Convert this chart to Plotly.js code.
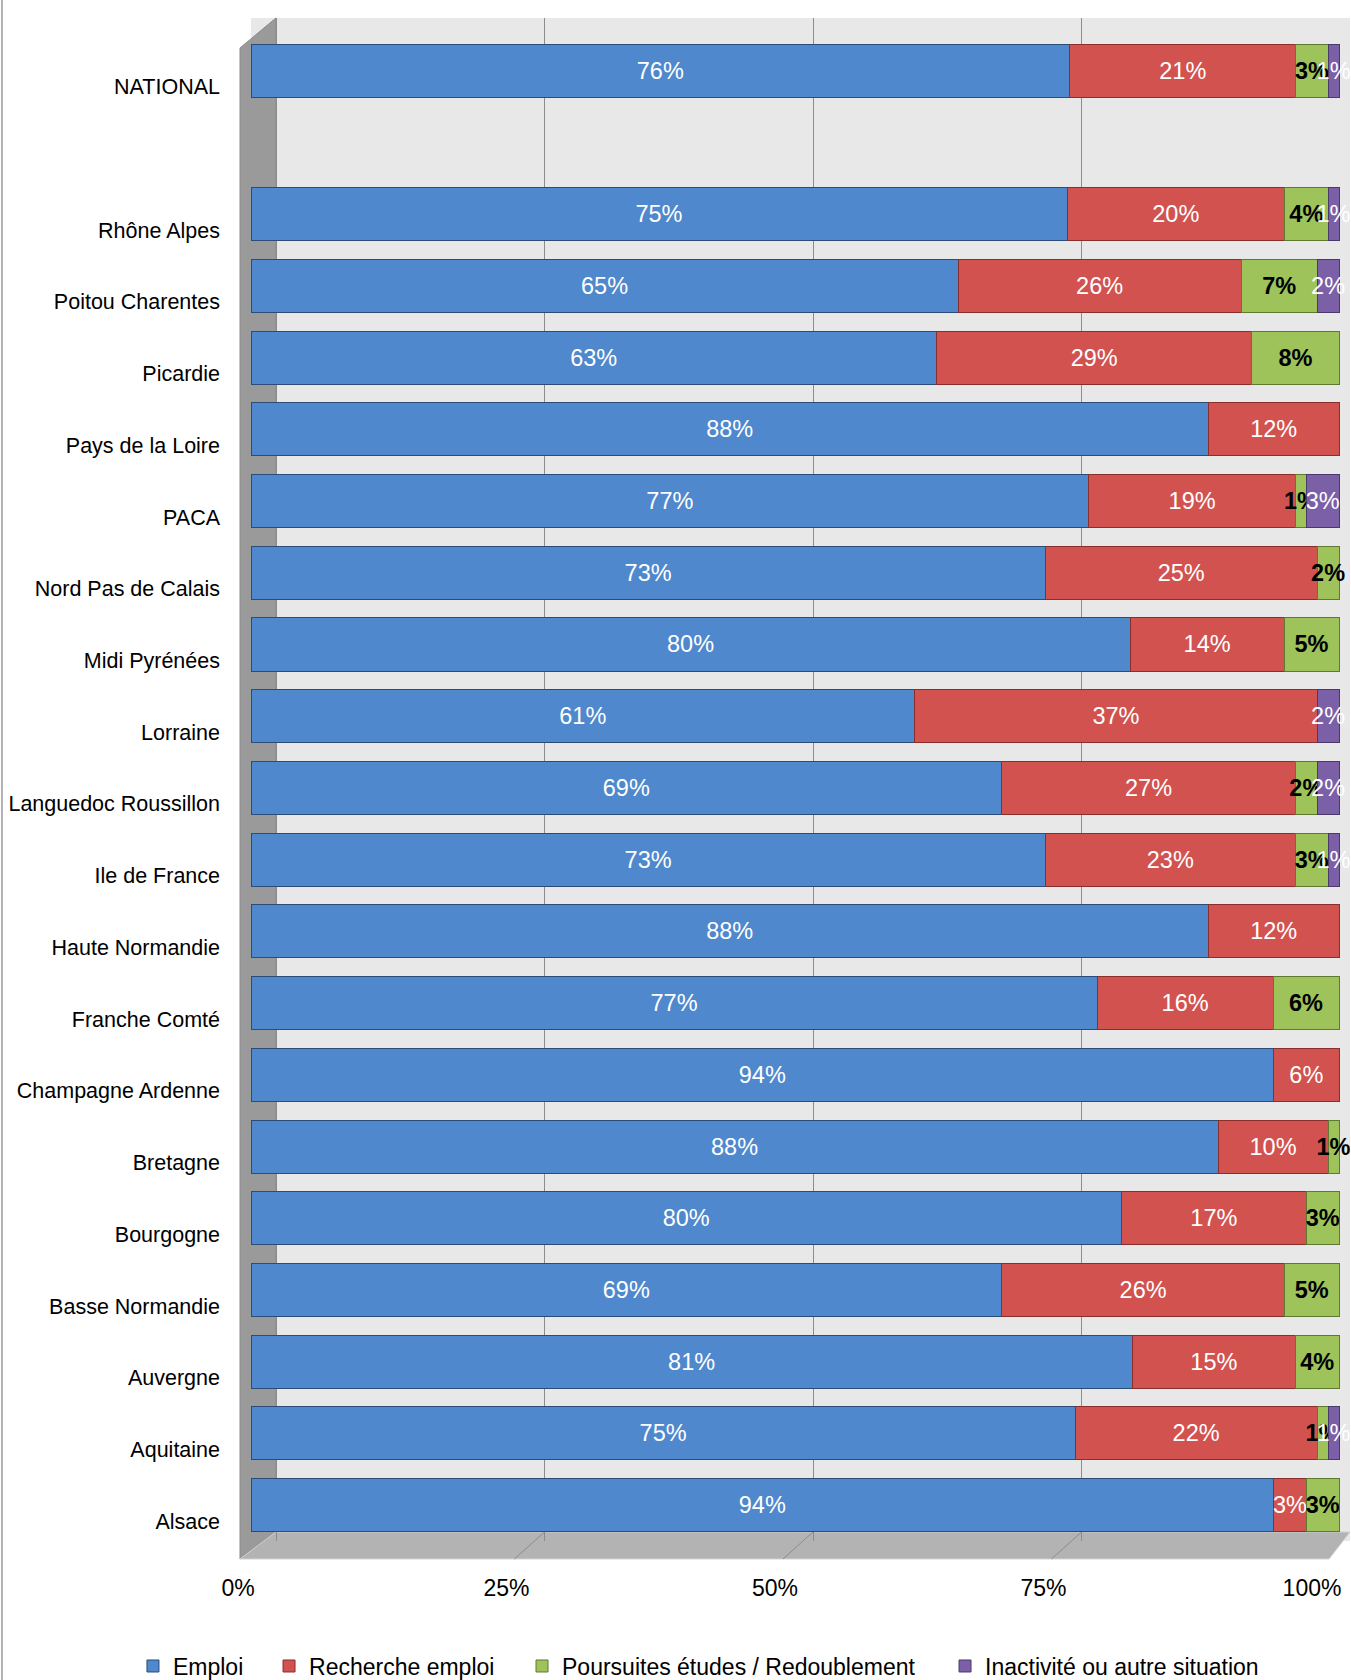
<!DOCTYPE html>
<html>
<head>
<meta charset="utf-8">
<script src="https://cdn.plot.ly/plotly-3.0.1.min.js"></script>
<style>
html,body{margin:0;padding:0;background:#fff;}
#chart{width:1351px;height:1680px;}
</style>
</head>
<body>
<div id="chart"></div>
<script>
const categories = ["NATIONAL"," ","Rhône Alpes","Poitou Charentes","Picardie","Pays de la Loire","PACA","Nord Pas de Calais","Midi Pyrénées","Lorraine","Languedoc Roussillon","Ile de France","Haute Normandie","Franche Comté","Champagne Ardenne","Bretagne","Bourgogne","Basse Normandie","Auvergne","Aquitaine","Alsace"];
const emploi     = [76,null,75,65,63,88,77,73,80,61,69,73,88,77,94,88,80,69,81,75,94];
const recherche  = [21,null,20,26,29,12,19,25,14,37,27,23,12,16,6,10,17,26,15,22,3];
const poursuites = [3,null,4,7,8,null,1,2,5,null,2,3,null,6,null,1,3,5,4,1,3];
const inactivite = [1,null,1,2,null,null,3,null,null,2,2,1,null,null,null,null,null,null,null,1,null];
const seriesNames = ["Emploi","Recherche emploi","Poursuites études / Redoublement","Inactivité ou autre situation"];
const tickVals = [0,25,50,75,100];
const tickText = ["0%","25%","50%","75%","100%"];

const FONT = "'Liberation Sans', Arial, sans-serif";
const FS = 21.5;

const colors = ["#4f88cc","#d2524f","#9dc35a","#7b60a8"];
const edges  = ["#2b4c78","#8a2e2c","#5f7a30","#4a3a6a"];
const textColors = ["#ffffff","#ffffff","#000000","#ffffff"];
const textWeights = ["normal","normal","bold","normal"];
const values = [emploi, recherche, poursuites, inactivite];
const legendIds = ["legend","legend2","legend3","legend4"];

const traces = values.map((v,i)=>({
  type:"bar", orientation:"h", name:seriesNames[i],
  x:v, y:categories, xaxis:"x", yaxis:"y",
  text:v.map(d=> d==null ? "" : d+"%"),
  texttemplate:"%{text}",
  marker:{color:colors[i], line:{color:edges[i], width:1}},
  width:0.74,
  textposition:"inside", insidetextanchor:"middle",
  textangle:0, constraintext:"none",
  textfont:{family:FONT, size:FS+2, color:textColors[i], weight:textWeights[i]},
  legend:legendIds[i],
  hoverinfo:"skip"
}));
// empty helper trace so the back-wall axis (x2) is drawn
traces.push({type:"scatter", mode:"markers", x:[], y:[], xaxis:"x2", yaxis:"y",
             showlegend:false, hoverinfo:"skip"});

// plot area in pixels
const L=251, R=1350, T=18, B=1541;
const BAR_END=1339, WALL_X0=276;
const W=R-L, H=B-T;
const px=(x)=>((x-L)/W).toFixed(4);
const py=(y)=>((B-y)/H).toFixed(4);
const barMax = 100*(R-L)/(BAR_END-L);
const wallMin = -100*(WALL_X0-L)/(R-WALL_X0);

const shapes = [
  {type:"path", xref:"paper", yref:"paper", layer:"below",
   path:`M${px(276)},${py(18)} L${px(240)},${py(48)} L${px(240)},${py(1559)} L${px(276)},${py(1532)} Z`,
   fillcolor:"#9a9a9a", line:{color:"#8a8a8a", width:1}},
  {type:"path", xref:"paper", yref:"paper", layer:"below",
   path:`M${px(240)},${py(1559)} L${px(276)},${py(1532)} L${px(1350)},${py(1532)} L${px(1329)},${py(1559)} Z`,
   fillcolor:"#b3b3b3", line:{color:"#d0d0d0", width:1}},
  {type:"line", xref:"paper", yref:"paper", layer:"below",
   x0:px(2), x1:px(2), y0:py(0), y1:py(1680), line:{color:"#9a9a9a", width:1.5}}
];
// floor grid lines (from back wall to front edge)
tickVals.slice(1,4).forEach(v=>{
  shapes.push({type:"line", xref:"x2", yref:"paper", layer:"below",
    xsizemode:"pixel", xanchor:v, x0:0, x1:-30, y0:py(1532), y1:py(1559),
    line:{color:"#8c8c8c", width:1}});
});

const legendFont = {family:FONT, size:FS+1.5, color:"#000"};
const legendTextStart = [171, 307, 560, 983];
const legends = {};
legendIds.forEach((id,i)=>{
  legends[id] = {orientation:"h", x:px(legendTextStart[i]-38), xanchor:"left",
    y:py(1666), yanchor:"middle", font:legendFont, itemwidth:30, bgcolor:"rgba(0,0,0,0)"};
});

const layout = Object.assign({
  width:1351, height:1680,
  margin:{l:L, r:1351-R, t:T, b:1680-B, autoexpand:false},
  paper_bgcolor:"#ffffff", plot_bgcolor:"#e8e8e8",
  barmode:"stack", barnorm:"percent", bargap:0.26,
  showlegend:true,
  font:{family:FONT, size:FS, color:"#000"},
  xaxis:{range:[0,barMax], showgrid:false, showticklabels:false, zeroline:false,
         showline:false, ticks:"", fixedrange:true, automargin:false},
  xaxis2:{overlaying:"x", anchor:"y", side:"bottom", range:[wallMin,100],
         tickvals:tickVals, ticktext:tickText, showgrid:true,
         gridcolor:"#8c8c8c", gridwidth:1, zeroline:false, showline:false,
         ticks:"", ticklabelstandoff:31, ticklabelshift:-38, ticklabeloverflow:"allow",
         tickfont:{family:FONT, size:FS+1.5, color:"#000"}, fixedrange:true, automargin:false},
  yaxis:{type:"category", categoryorder:"array", categoryarray:categories,
         range:[20.5,-0.735], showgrid:false, zeroline:false, showline:false,
         ticks:"", ticklabelstandoff:30, ticklabelshift:-16,
         tickfont:{family:FONT, size:FS, color:"#000"}, fixedrange:true, automargin:false},
  uniformtext:{mode:"show", minsize:FS+2},
  shapes:shapes
}, legends);

Plotly.newPlot("chart", traces, layout, {displayModeBar:false, staticPlot:true});
</script>
</body>
</html>
